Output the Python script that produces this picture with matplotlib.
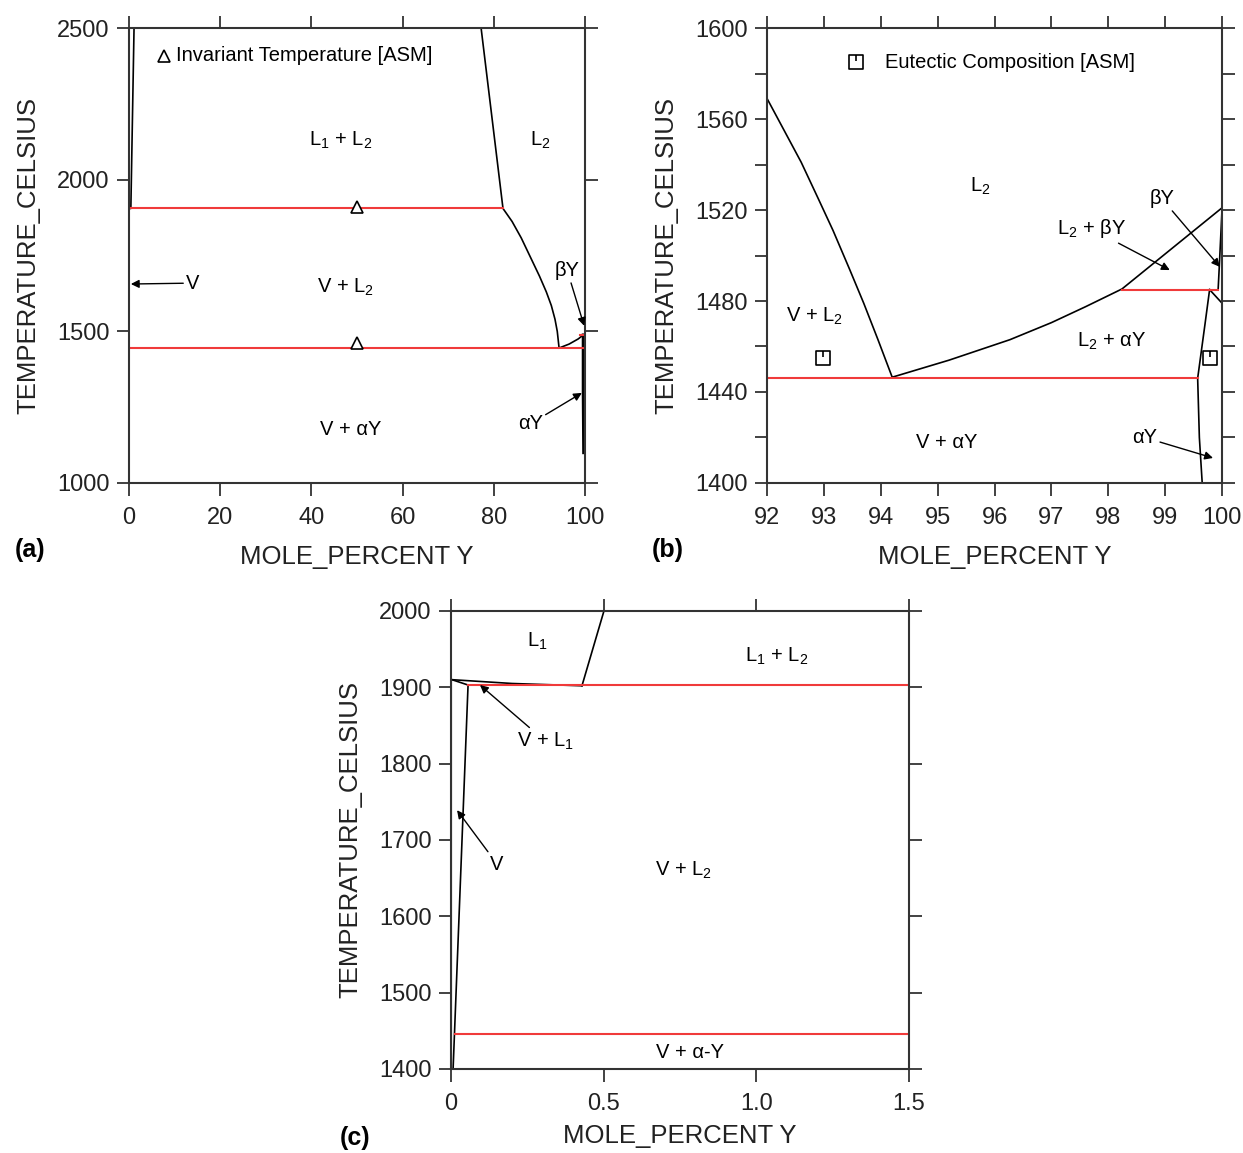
import matplotlib
matplotlib.use('Agg')
import matplotlib.pyplot as plt
from matplotlib.path import Path
from matplotlib.ticker import MultipleLocator

plt.rcParams['font.family'] = ['Liberation Sans', 'DejaVu Sans']
plt.rcParams['mathtext.fontset'] = 'custom'
plt.rcParams['mathtext.rm'] = 'Liberation Sans'
plt.rcParams['mathtext.it'] = 'Liberation Sans:italic'

RED = '#f03a3a'
AXC = '#333333'

# ---- panel (a) data: full range ----
a_v_x = [1.1, 0.4, 0.0, 0.0]
a_v_t = [2500, 1905, 1905, 1000]
a_liq_x = [77.2, 82.0, 84.0, 86.0, 88.0, 90.0, 91.5, 92.6, 93.4, 93.9, 94.3]
a_liq_t = [2500, 1905, 1862, 1808, 1745, 1682, 1630, 1585, 1540, 1500, 1445]
a_by_x = [94.3, 96.5, 98.5, 99.6]
a_by_t = [1445, 1458, 1475, 1488]
a_ay_x = [99.6, 99.6, 99.7]
a_ay_t = [1488, 1300, 1100]
a_inv_t = [1905, 1445, 1488]
a_inv_x0 = [0.4, 0.0, 98.9]
a_inv_x1 = [82.0, 99.7, 100.0]
a_tri_x = [50, 50]
a_tri_t = [1910, 1460]

# ---- panel (b) data: Y-rich side ----
b_liq_x = [92.0, 92.3, 92.6, 92.9, 93.16, 93.45, 93.7, 93.95, 94.2,
           95.2, 96.27, 97.0, 97.6, 98.24, 100.0]
b_liq_t = [1569, 1555, 1541, 1525, 1511, 1494, 1479, 1463, 1446.5,
           1454, 1463, 1470.5, 1477.5, 1485.3, 1521]
b_by_x = [100.0, 99.95, 99.93]
b_by_t = [1521, 1495, 1485]
b_tri_x = [99.78, 100.0]
b_tri_t = [1485, 1479]
b_ay_x = [99.78, 99.7, 99.57, 99.6, 99.65]
b_ay_t = [1485, 1470, 1446, 1420, 1400]
b_inv_t = [1446, 1485]
b_inv_x0 = [92.0, 98.24]
b_inv_x1 = [99.57, 99.93]
b_sq_x = [92.98, 99.78]
b_sq_t = [1455, 1455]

# ---- panel (c) data: Y-poor side ----
c_l1_x = [0.501, 0.429]
c_l1_t = [2000, 1902]
c_l1b_x = [0.003, 0.2, 0.429]
c_l1b_t = [1910, 1905, 1902]
c_vl1_x = [0.003, 0.056]
c_vl1_t = [1910, 1903]
c_v_x = [0.056, 0.007]
c_v_t = [1903, 1400]
c_inv_t = [1903, 1446]
c_inv_x0 = [0.056, 0.013]
c_inv_x1 = [1.5, 1.5]

fig = plt.figure(figsize=(12.43, 11.53), dpi=100)
axa = fig.add_axes([0.1038, 0.5811, 0.3669, 0.3946])
axb = fig.add_axes([0.6171, 0.5811, 0.3661, 0.3946])
axc = fig.add_axes([0.3628, 0.0729, 0.3685, 0.3972])

for ax in (axa, axb, axc):
    for s in ax.spines.values():
        s.set_color(AXC)
        s.set_linewidth(1.5)
    ax.tick_params(which='both', direction='out', top=True, right=True, length=9,
                   width=1.3, color=AXC, labelsize=17, pad=5, labelcolor='#222222')
    ax.tick_params(axis='x', pad=8)
    ax.set_ylabel('TEMPERATURE_CELSIUS', fontsize=18.5, color='#222222', labelpad=12)
    ax.set_xlabel('MOLE_PERCENT Y', fontsize=18.5, color='#222222', labelpad=12)
axc.set_xlabel('MOLE_PERCENT Y', fontsize=18.5, color='#222222', labelpad=7)

arw = dict(arrowstyle='-|>', color='k', lw=1.0, mutation_scale=12, shrinkA=0, shrinkB=0)
fs = 14.5

# panel (a)
axa.plot(a_v_x, a_v_t, color='k', lw=1.2)
axa.plot(a_liq_x, a_liq_t, color='k', lw=1.2)
axa.plot(a_by_x, a_by_t, color='k', lw=1.2)
axa.plot(a_ay_x, a_ay_t, color='k', lw=2.2)
for t, x0, x1 in zip(a_inv_t, a_inv_x0, a_inv_x1):
    axa.plot([x0, x1], [t, t], color=RED, lw=1.5)
axa.plot(a_tri_x, a_tri_t, ls='none', marker='^', ms=8, mfc='white', mec='k', mew=1.2)
axa.plot([7.7], [2408], ls='none', marker='^', ms=8, mfc='white', mec='k', mew=1.2, clip_on=False)
axa.text(10.3, 2408, 'Invariant Temperature [ASM]', fontsize=fs, va='center')
axa.text(46.5, 2131, 'L$_1$ + L$_2$', fontsize=fs, ha='center', va='center')
axa.text(90.1, 2131, 'L$_2$', fontsize=fs, ha='center', va='center')
axa.text(47.4, 1646, 'V + L$_2$', fontsize=fs, ha='center', va='center')
axa.text(48.5, 1175, 'V + αY', fontsize=fs, ha='center', va='center')
axa.annotate('V', xy=(0.4, 1656), xytext=(12.5, 1659), fontsize=fs, va='center', arrowprops=arw)
axa.annotate('βY', xy=(99.8, 1518), xytext=(96.1, 1700), fontsize=fs, ha='center',
             va='center', arrowprops=arw)
axa.annotate('αY', xy=(99.3, 1297), xytext=(88.0, 1195), fontsize=fs, ha='center',
             va='center', arrowprops=arw)
axa.set_xlim(0, 100)
axa.set_ylim(1000, 2500)
axa.xaxis.set_major_locator(MultipleLocator(20))
axa.yaxis.set_major_locator(MultipleLocator(500))

# panel (b)
sq = Path([(-1, -1), (1, -1), (1, 1), (-1, 1), (-1, -1), (0, 1), (0, 0.2)],
          [Path.MOVETO, Path.LINETO, Path.LINETO, Path.LINETO, Path.CLOSEPOLY,
           Path.MOVETO, Path.LINETO])
axb.plot(b_liq_x, b_liq_t, color='k', lw=1.2)
axb.plot(b_by_x, b_by_t, color='k', lw=1.2)
axb.plot(b_tri_x, b_tri_t, color='k', lw=1.2)
axb.plot(b_ay_x, b_ay_t, color='k', lw=1.2)
for t, x0, x1 in zip(b_inv_t, b_inv_x0, b_inv_x1):
    axb.plot([x0, x1], [t, t], color=RED, lw=1.5)
axb.plot(b_sq_x, b_sq_t, ls='none', marker=sq, ms=10, mfc='none', mec='k', mew=1.2)
axb.plot([93.56], [1585], ls='none', marker=sq, ms=10, mfc='none', mec='k', mew=1.2)
axb.text(94.07, 1585, 'Eutectic Composition [ASM]', fontsize=fs, va='center')
axb.text(95.74, 1530.6, 'L$_2$', fontsize=fs, ha='center', va='center')
axb.text(92.84, 1473.4, 'V + L$_2$', fontsize=fs, ha='center', va='center')
axb.text(98.06, 1462.4, 'L$_2$ + αY', fontsize=fs, ha='center', va='center')
axb.text(95.16, 1417.6, 'V + αY', fontsize=fs, ha='center', va='center')
axb.annotate('βY', xy=(99.96, 1495), xytext=(98.94, 1525), fontsize=fs, ha='center',
             va='center', arrowprops=arw)
axb.annotate('L$_2$ + βY', xy=(99.08, 1493.6), xytext=(97.7, 1511.7), fontsize=fs,
             ha='center', va='center', arrowprops=arw)
axb.annotate('αY', xy=(99.84, 1411), xytext=(98.64, 1420), fontsize=fs, ha='center',
             va='center', arrowprops=arw)
axb.set_xlim(92, 100)
axb.set_ylim(1400, 1600)
axb.xaxis.set_major_locator(MultipleLocator(1))
axb.yaxis.set_major_locator(MultipleLocator(40))
axb.yaxis.set_minor_locator(MultipleLocator(20))
axb.tick_params(which='minor', length=9, width=1.3)

# panel (c)
axc.plot(c_l1_x, c_l1_t, color='k', lw=1.2)
axc.plot(c_l1b_x, c_l1b_t, color='k', lw=1.2)
axc.plot(c_vl1_x, c_vl1_t, color='k', lw=1.2)
axc.plot(c_v_x, c_v_t, color='k', lw=1.2)
axc.plot([0, 0], [1400, 1910], color='k', lw=1.5)
for t, x0, x1 in zip(c_inv_t, c_inv_x0, c_inv_x1):
    axc.plot([x0, x1], [t, t], color=RED, lw=1.5)
axc.text(0.282, 1960.7, 'L$_1$', fontsize=fs, ha='center', va='center')
axc.text(1.068, 1941, 'L$_1$ + L$_2$', fontsize=fs, ha='center', va='center')
axc.text(0.76, 1660.7, 'V + L$_2$', fontsize=fs, ha='center', va='center')
axc.text(0.783, 1421, 'V + α-Y', fontsize=fs, ha='center', va='center')
axc.annotate('V + L$_1$', xy=(0.095, 1903), xytext=(0.308, 1829.7), fontsize=fs,
             ha='center', va='center', arrowprops=arw)
axc.annotate('V', xy=(0.02, 1739), xytext=(0.151, 1668.5), fontsize=fs, ha='center',
             va='center', arrowprops=arw)
axc.set_xlim(0, 1.5)
axc.set_ylim(1400, 2000)
axc.xaxis.set_major_locator(MultipleLocator(0.5))
axc.yaxis.set_major_locator(MultipleLocator(100))
axc.xaxis.set_major_formatter(plt.FuncFormatter(lambda v, p: '0' if v == 0 else f'{v:.1f}'))

fig.text(30 / 1243, 1 - 550 / 1153, '(a)', fontsize=18, fontweight='bold', ha='center', va='center')
fig.text(668 / 1243, 1 - 550 / 1153, '(b)', fontsize=18, fontweight='bold', ha='center', va='center')
fig.text(355 / 1243, 1 - 1138 / 1153, '(c)', fontsize=18, fontweight='bold', ha='center', va='center')

fig.savefig('out.png', dpi=100, facecolor='white')
